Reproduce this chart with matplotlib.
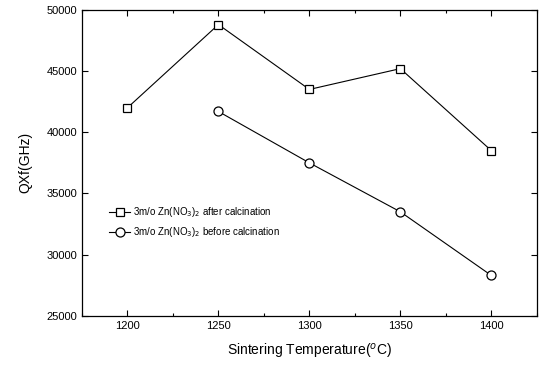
import matplotlib
matplotlib.use('Agg')
import matplotlib.pyplot as plt
from matplotlib.ticker import MultipleLocator

plt.rcParams['font.family'] = ['Liberation Sans', 'DejaVu Sans']

# ── data ─────────────────────────────────────────────────────────────────────

temp_after  = [1200, 1250, 1300, 1350, 1400]
qf_after    = [42000, 48800, 43500, 45200, 38500]

temp_before = [1250, 1300, 1350, 1400]
qf_before   = [41700, 37500, 33500, 28300]

label_after  = r'3m/o Zn(NO$_3$)$_2$ after calcination'
label_before = r'3m/o Zn(NO$_3$)$_2$ before calcination'

# ── plot ─────────────────────────────────────────────────────────────────────

fig = plt.figure(figsize=(5.39, 3.66), dpi=100)
ax = fig.add_axes([0.152, 0.137, 0.844, 0.836])

ax.plot(temp_after, qf_after, color='black', lw=0.8, marker='s', ms=6,
        mfc='white', mec='black', mew=0.9, label=label_after)
ax.plot(temp_before, qf_before, color='black', lw=0.8, marker='o', ms=6.5,
        mfc='white', mec='black', mew=0.9, label=label_before)

ax.set_xlim(1175, 1425)
ax.set_ylim(25000, 50000)
ax.xaxis.set_major_locator(MultipleLocator(50))
ax.xaxis.set_minor_locator(MultipleLocator(25))
ax.yaxis.set_major_locator(MultipleLocator(5000))
ax.tick_params(which='both', direction='in', top=True, right=True,
               labelsize=8, width=0.8)
ax.tick_params(which='major', length=4)
ax.tick_params(which='minor', length=2)
for s in ax.spines.values():
    s.set_linewidth(0.9)

ax.set_xlabel('Sintering Temperature($^{o}$C)', fontsize=10, labelpad=8)
ax.set_ylabel('QXf(GHz)', fontsize=10, labelpad=10)

ax.legend(loc='upper left', bbox_to_anchor=(0.04, 0.39), frameon=False,
          fontsize=7, handlelength=2.2, handletextpad=0.3, labelspacing=0.6)

fig.savefig('out.png', dpi=100)
